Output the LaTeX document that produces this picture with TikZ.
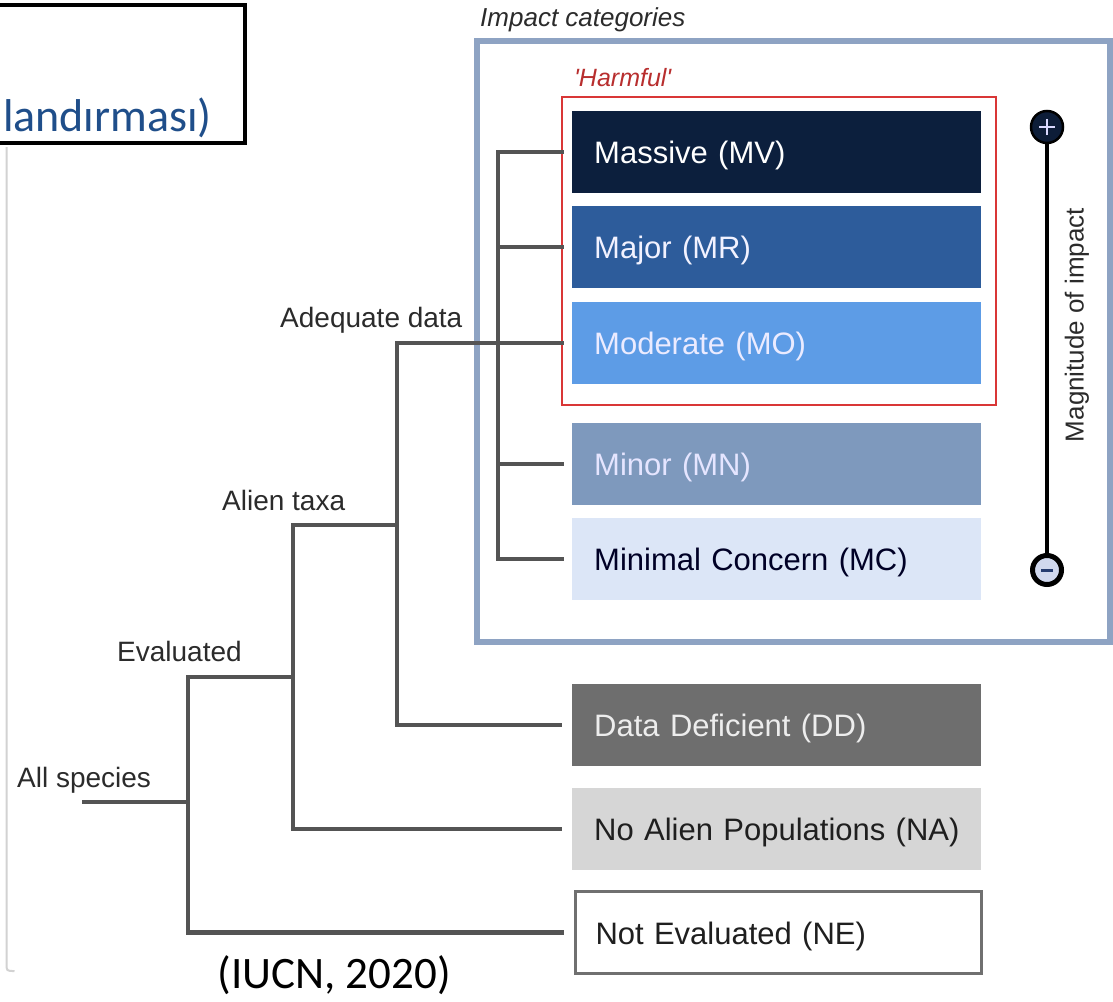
\documentclass[tikz,border=0pt]{standalone}
\usepackage{fontspec}
\setmainfont{Liberation Sans}
\newfontfamily\carl{Carlito}
\newcommand\setfs[1]{\fontsize{#1pt}{#1pt}\selectfont}
\definecolor{titleblue}{HTML}{1F4E8A}
\definecolor{frameblue}{HTML}{8EA3C3}
\definecolor{harmred}{HTML}{D93636}
\definecolor{treegray}{HTML}{545454}
\definecolor{labelgray}{HTML}{2B2B2B}
\definecolor{cMV}{HTML}{0C1F3D}
\definecolor{cMR}{HTML}{2D5C9B}
\definecolor{cMO}{HTML}{5D9CE6}
\definecolor{cMN}{HTML}{7E99BD}
\definecolor{cMC}{HTML}{DCE6F7}
\definecolor{cDD}{HTML}{6E6E6E}
\definecolor{cNA}{HTML}{D6D6D6}
\definecolor{cNEb}{HTML}{707070}
\definecolor{panelgray}{HTML}{D2D2D2}
\definecolor{plusfill}{HTML}{0D1D38}
\definecolor{minusfill}{HTML}{D0D8EE}
\definecolor{minusdash}{HTML}{253C70}
\tikzset{
  tree/.style={draw=treegray, line width=4.5pt, line cap=rect, line join=miter},
  catbox/.style={anchor=west, minimum width=409pt, minimum height=82pt,
    inner xsep=22pt, inner ysep=0pt, text width=365pt, align=left,
    text height=23pt, text depth=0pt, font=\setfs{31}},
  lbl/.style={anchor=base west, inner sep=0pt, font=\setfs{28}, text=labelgray},
}
\begin{document}
\begin{tikzpicture}[x=1pt,y=-1pt]
\useasboundingbox (0,0) rectangle (1113,1001);
\fill[white] (0,0) rectangle (1113,1001);

% title box (cut by the left edge)
\draw[black, line width=4pt] (-10,5) rectangle (245,143);
\node[anchor=base east, inner sep=0pt, font=\carl\setfs{46}, text=titleblue] (title) at (212,131) {landırması)};

% left panel edge
\draw[panelgray, line width=2pt] (6.5,147) -- (6.5,963) .. controls (6.5,971) .. (14.5,971);

% source
\node[anchor=base, inner sep=0pt, font=\carl\setfs{45}, text=black] (src) at (334,988) {(IUCN, 2020)};

% impact frame
\draw[frameblue, line width=6pt, fill=white] (477,41) rectangle (1110,642);
\node[lbl, font=\itshape\setfs{26}] (impcat) at (480,27) {Impact categories};

% harmful box
\draw[harmred, line width=2.5pt] (562,97) rectangle (996,405);
\node[lbl, font=\itshape\setfs{25}, text=harmred!85!black] (harm) at (574,86) {\textquotesingle Harmful\textquotesingle};

% categories
\node[catbox, fill=cMV, text=white] (MV) at (572,152) {Massive (MV)};
\node[catbox, fill=cMR, text=white!95!blue] (MR) at (572,247) {Major (MR)};
\node[catbox, fill=cMO, text=white!92!blue] (MO) at (572,343) {Moderate (MO)};
\node[catbox, fill=cMN, text=white!90!blue] (MN) at (572,464) {Minor (MN)};
\node[catbox, fill=cMC, text=black!85!blue] (MC) at (572,559) {Minimal Concern (MC)};
\node[catbox, fill=cDD, text=white!93!black] (DD) at (572,725) {Data Deficient (DD)};
\node[catbox, fill=cNA, text=black!88] (NA) at (572,829) {\mbox{No Alien Populations (NA)}};
\node[catbox, fill=white, draw=cNEb, line width=3pt, minimum width=406pt, inner xsep=20.5pt, text width=365pt, text=black!88] (NE) at (573.5,932.5) {Not Evaluated (NE)};

% magnitude bar
\node[circle, minimum size=32pt, inner sep=0pt, fill=plusfill, draw=black, line width=2.5pt] (plus) at (1047,127) {};
\node[circle, minimum size=29pt, inner sep=0pt, fill=minusfill, draw=black, line width=5pt] (minus) at (1047,570) {};
\draw[black, line width=4pt] (plus) -- (minus);
\draw[white!85!blue, line width=2pt] ([xshift=-8pt]plus.center) -- ([xshift=8pt]plus.center)
  ([yshift=-8pt]plus.center) -- ([yshift=8pt]plus.center);
\draw[minusdash, line width=3pt] ([xshift=-6pt]minus.center) -- ([xshift=6pt]minus.center);
\node[rotate=90, inner sep=0pt, font=\setfs{26}, text=labelgray] (mag) at (1077,325) {Magnitude of impact};

% tree labels
\node[lbl] (lall) at (17,787) {All species};
\node[lbl] (leval) at (117,661) {Evaluated};
\node[lbl] (lalien) at (222,510) {Alien taxa};
\node[lbl] (ladeq) at (280,327) {Adequate data};

% tree
\coordinate (root) at (84,802);
\coordinate (n1) at (188,677);
\coordinate (n2) at (293,525);
\coordinate (n3) at (397,343);
\coordinate (n4) at (498,152);
\draw[tree] (root) -- (root -| n1);
\draw[tree] (n2 |- n1) -- (n1) |- ([xshift=-12pt]NE.west);
\draw[tree] (n3 |- n2) -- (n2) |- ([xshift=-12pt]NA.west);
\draw[tree] (n3) |- ([xshift=-12pt]DD.west);
\draw[tree] (n3) -- ([xshift=-10pt]MO.west);
\draw[tree] (n4) -- (n4 |- MC.west) -- ([xshift=-10pt]MC.west);
\draw[tree] (n4) -- ([xshift=-10pt]MV.west);
\draw[tree] (n4 |- MR.west) -- ([xshift=-10pt]MR.west);
\draw[tree] (n4 |- MN.west) -- ([xshift=-10pt]MN.west);
\end{tikzpicture}
\end{document}
